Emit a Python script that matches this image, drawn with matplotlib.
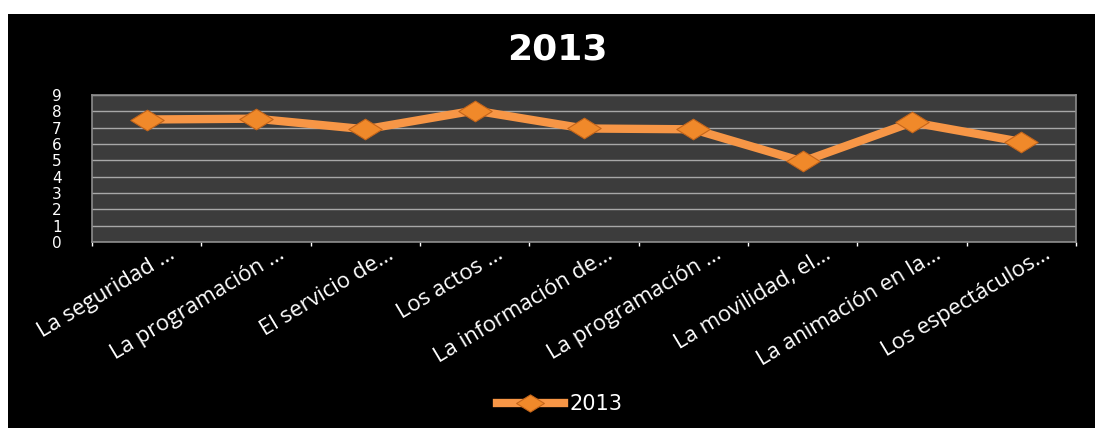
import matplotlib
matplotlib.use("Agg")
import matplotlib.pyplot as plt
import matplotlib.transforms as mtransforms
from matplotlib.path import Path
from matplotlib.patches import Rectangle
from matplotlib.lines import Line2D

categories = ["La seguridad …", "La programación …", "El servicio de…", "Los actos …",
              "La información de…", "La programación …", "La movilidad, el…",
              "La animación en la…", "Los espectáculos…"]
values_2013 = [7.5, 7.55, 6.9, 8.05, 6.95, 6.9, 4.93, 7.33, 6.13]
series_name = "2013"
title = "2013"
y_ticks = list(range(0, 10))

W, H = 1095, 428
fig = plt.figure(figsize=(W / 100, H / 100), dpi=100, facecolor="white")
# black chart background (thin white margin at top/left as in reference)
bg = Rectangle((8 / W, 0), 1 - 8 / W, 1 - 14 / H, transform=fig.transFigure,
               facecolor="black", edgecolor="none", zorder=-10)
fig.patches.append(bg)

ax = fig.add_axes([92 / W, 1 - 242 / H, (1076 - 92) / W, (242 - 95) / H])
ax.set_zorder(5)
ax.set_facecolor("#3c3c3c")

diamond = Path([(-1, 0), (0, 0.62), (1, 0), (0, -0.62), (-1, 0)],
               [Path.MOVETO, Path.LINETO, Path.LINETO, Path.LINETO, Path.CLOSEPOLY])

x = list(range(len(categories)))
ax.plot(x, values_2013, color="#f79646", linewidth=6, solid_joinstyle="miter",
        marker=diamond, markersize=24, markerfacecolor="#f0892a",
        markeredgecolor="#c4651a", markeredgewidth=0.8, zorder=3)

ax.set_xlim(-0.5, len(categories) - 0.5)
ax.set_ylim(0, 9)
ax.set_yticks(y_ticks)
ax.yaxis.grid(True, color="#a8a8a8", linewidth=1)
ax.set_axisbelow(True)
for s in ax.spines.values():
    s.set_color("#8c8c8c")
    s.set_linewidth(1.2)

ax.tick_params(axis="y", length=0, pad=22, labelsize=11, labelcolor="white")
for lab in ax.get_yticklabels():
    lab.set_fontfamily("DejaVu Sans")
    lab.set_fontstretch("expanded")

ax.set_xticks(x)
ax.set_xticklabels(categories, rotation=31, ha="right", va="center",
                   rotation_mode="anchor", fontsize=16, color="white",
                   family="Open Sans")
ax.tick_params(axis="x", length=0, pad=8)
offset = mtransforms.ScaledTranslation(27 / 100, 0, fig.dpi_scale_trans)
for lab in ax.get_xticklabels():
    lab.set_transform(lab.get_transform() + offset)
ax.set_xticks([i - 0.5 for i in range(len(categories) + 1)], minor=True)
ax.tick_params(axis="x", which="minor", length=3, color="white", width=1)

fig.text(557 / W, 1 - 50 / H, title, ha="center", va="center", fontsize=26,
         fontweight="bold", color="white", family="DejaVu Sans")

handle = Line2D([], [], color="#f79646", linewidth=6, marker=diamond, markersize=20,
                markerfacecolor="#f0892a", markeredgecolor="#c4651a", markeredgewidth=0.8)
leg = fig.legend([handle], [series_name], loc="center", bbox_to_anchor=(560 / W, 1 - 404 / H),
                 frameon=False, fontsize=15, labelcolor="white", handlelength=3.2,
                 handletextpad=0.3)

fig.savefig("out.png", dpi=100, facecolor=fig.get_facecolor())
